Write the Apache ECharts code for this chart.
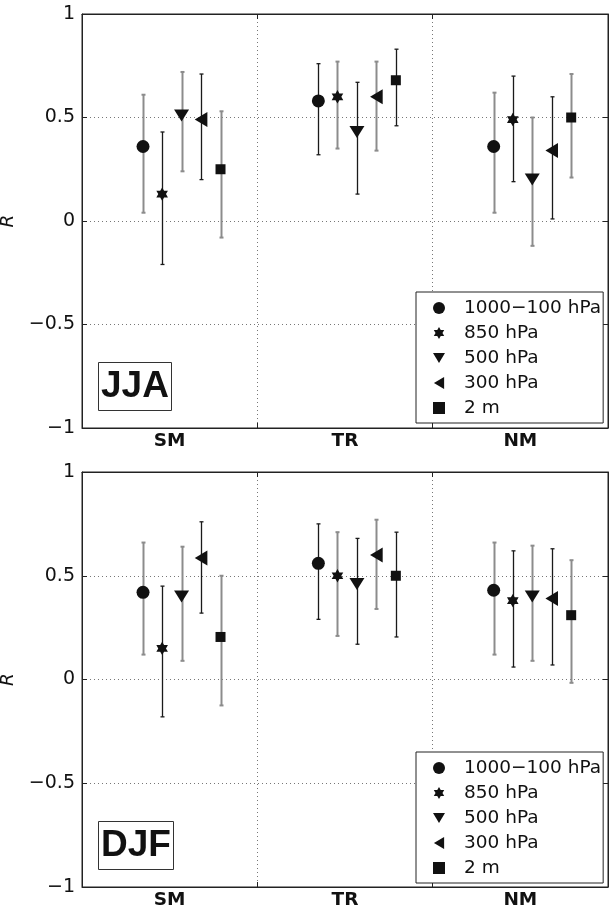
<!DOCTYPE html>
<html>
<head>
<meta charset="utf-8">
<title>R by region, JJA / DJF</title>
<script src="https://cdn.jsdelivr.net/npm/echarts@6.0.0/dist/echarts.min.js"></script>
<style>
  html, body { margin: 0; padding: 0; background: #fff; }
  #chart { width: 612px; height: 911px; }
</style>
</head>
<body>
<div id="chart"></div>
<script>
// categories and series names
var regions = ['SM', 'TR', 'NM']
var levels = ['1000\u2212100 hPa', '850 hPa', '500 hPa', '300 hPa', '2 m']
var yTicks = [-1, -0.5, 0, 0.5, 1]

// JJA: one row per level, one value per region (SM, TR, NM)
var jjaR = [[0.36, 0.58, 0.36], [0.13, 0.60, 0.49], [0.51, 0.43, 0.20], [0.49, 0.60, 0.34], [0.25, 0.68, 0.50]]
var jjaLo = [[0.04, 0.32, 0.04], [-0.21, 0.35, 0.19], [0.24, 0.13, -0.12], [0.20, 0.34, 0.01], [-0.08, 0.46, 0.21]]
var jjaHi = [[0.61, 0.76, 0.62], [0.43, 0.77, 0.70], [0.72, 0.67, 0.50], [0.71, 0.77, 0.60], [0.53, 0.83, 0.71]]

// DJF
var djfR = [[0.42, 0.56, 0.43], [0.15, 0.50, 0.38], [0.40, 0.46, 0.40], [0.585, 0.60, 0.39], [0.205, 0.50, 0.31]]
var djfLo = [[0.12, 0.29, 0.12], [-0.18, 0.21, 0.06], [0.09, 0.17, 0.09], [0.32, 0.34, 0.07], [-0.125, 0.205, -0.016]]
var djfHi = [[0.66, 0.75, 0.66], [0.45, 0.71, 0.62], [0.64, 0.68, 0.645], [0.76, 0.77, 0.63], [0.50, 0.71, 0.575]]

// layout / style constants
var FONT = 'DejaVu Sans'
var offsets = [-0.152, -0.043, 0.068, 0.179, 0.29] // fraction of band width
var HEX = 'path://M0,-1L0.2887,-0.5L0.866,-0.5L0.577,0L0.866,0.5L0.2887,0.5L0,1L-0.2887,0.5L-0.866,0.5L-0.577,0L-0.866,-0.5L-0.2887,-0.5Z'
var icons = ['circle', HEX, 'path://M0,0L2,0L1,1.7Z', 'path://M1.7,0L1.7,2L0,1Z', 'rect']

function markerShape(lvl, x, y) {
  var fill = { fill: '#111' }
  if (lvl === 0) return { type: 'circle', shape: { cx: x, cy: y, r: 6.5 }, style: fill }
  if (lvl === 4) return { type: 'rect', shape: { x: x - 5, y: y - 5, width: 10, height: 10 }, style: fill }
  var pts
  if (lvl === 1) {
    var R = 6.7, r = R / Math.sqrt(3)
    pts = []
    for (var k = 0; k < 12; k++) {
      var a = -Math.PI / 2 + k * Math.PI / 6
      var rr = k % 2 === 0 ? R : r
      pts.push([x + rr * Math.cos(a), y + rr * Math.sin(a)])
    }
  } else if (lvl === 2) {
    pts = [[x - 7.5, y - 6], [x + 7.5, y - 6], [x, y + 6]]
  } else {
    pts = [[x + 6.3, y - 7.5], [x + 6.3, y + 7.5], [x - 6.3, y]]
  }
  return { type: 'polygon', shape: { points: pts }, style: fill }
}

function makeRender(lvl) {
  return function (params, api) {
    var ci = api.value(0)
    var p = api.coord([ci, api.value(1)])
    var bandW = api.size([1, 0])[0]
    var x = Math.round(p[0] + bandW * offsets[lvl]) + 0.5
    var yLo = api.coord([ci, api.value(2)])[1]
    var yHi = api.coord([ci, api.value(3)])[1]
    var grey = (ci * 5 + lvl) % 2 === 0
    var stroke = grey ? '#8c8c8c' : '#1a1a1a'
    var lw = grey ? 2 : 1.3
    var ls = { stroke: stroke, lineWidth: lw }
    return {
      type: 'group',
      children: [
        { type: 'line', shape: { x1: x, y1: yLo, x2: x, y2: yHi }, style: ls },
        { type: 'line', shape: { x1: x - 2, y1: yLo, x2: x + 2, y2: yLo }, style: ls },
        { type: 'line', shape: { x1: x - 2, y1: yHi, x2: x + 2, y2: yHi }, style: ls },
        markerShape(lvl, p[0] + bandW * offsets[lvl], p[1])
      ]
    }
  }
}

function buildSeries(g, R, lo, hi) {
  return levels.map(function (name, lvl) {
    return {
      name: name,
      type: 'custom',
      xAxisIndex: g * 2,
      yAxisIndex: g * 2,
      itemStyle: { color: '#111' },
      renderItem: makeRender(lvl),
      encode: { x: 0, y: 1 },
      data: regions.map(function (rg, ci) { return [ci, R[lvl][ci], lo[lvl][ci], hi[lvl][ci]] }),
      z: 3
    }
  })
}

var dotted = { show: true, lineStyle: { type: [1, 3], color: '#777', width: 1 } }
var tickIn = { show: true, inside: true, length: 5, lineStyle: { color: '#222' } }
var axLine = { show: true, onZero: false, lineStyle: { color: '#222', width: 1 } }

function xAxes(g) {
  return [
    {
      type: 'category', gridIndex: g, data: regions, boundaryGap: true,
      axisLine: axLine, axisTick: tickIn, splitLine: dotted,
      axisLabel: { fontFamily: FONT, fontWeight: 'bold', fontSize: 18.5, color: '#111', margin: 4 }
    },
    {
      type: 'category', gridIndex: g, data: regions, boundaryGap: true, position: 'top',
      axisLine: axLine, axisTick: tickIn, axisLabel: { show: false }, splitLine: { show: false }
    }
  ]
}

function yAxes(g) {
  return [
    {
      type: 'value', gridIndex: g, min: yTicks[0], max: yTicks[yTicks.length - 1], interval: 0.5,
      name: 'R', nameLocation: 'middle', nameGap: 53, nameRotate: 90,
      nameTextStyle: { fontFamily: FONT, fontStyle: 'italic', fontSize: 18.5, color: '#111' },
      axisLine: axLine, axisTick: tickIn, splitLine: dotted,
      axisLabel: {
        fontFamily: FONT, fontSize: 19, color: '#111', margin: 7,
        formatter: function (v) { return String(v).replace('-', '\u2212') }
      }
    },
    {
      type: 'value', gridIndex: g, min: yTicks[0], max: yTicks[yTicks.length - 1], interval: 0.5,
      position: 'right', axisLine: axLine, axisTick: tickIn,
      axisLabel: { show: false }, splitLine: { show: false }
    }
  ]
}

function legendAt(top) {
  return {
    orient: 'vertical', left: 416, top: top,
    padding: [6, 2, 5, 17], itemGap: 5, itemWidth: 12, itemHeight: 12,
    backgroundColor: '#fff', borderColor: '#222', borderWidth: 1, borderRadius: 0,
    selectedMode: false,
    textStyle: { fontFamily: FONT, fontSize: 18.5, color: '#111', lineHeight: 20, padding: [0, 0, 0, 14] },
    data: levels.map(function (n, i) { return { name: n, icon: icons[i] } })
  }
}

function seasonBox(text, top) {
  return {
    text: text, left: 98, top: top,
    borderColor: '#333', borderWidth: 1, padding: [5, 3, 4, 3],
    textStyle: { fontFamily: 'Liberation Sans', fontWeight: 'bold', fontSize: 37, color: '#111', lineHeight: 40 }
  }
}

var chart = echarts.init(document.getElementById('chart'))
chart.setOption({
  animation: false,
  backgroundColor: '#fff',
  title: [seasonBox('JJA', 362), seasonBox('DJF', 821)],
  legend: [legendAt(292), legendAt(752)],
  grid: [
    { left: 82, top: 14, width: 526, height: 414, show: true, borderColor: '#222', borderWidth: 1, outerBoundsMode: 'none' },
    { left: 82, top: 472, width: 526, height: 415, show: true, borderColor: '#222', borderWidth: 1, outerBoundsMode: 'none' }
  ],
  xAxis: xAxes(0).concat(xAxes(1)),
  yAxis: yAxes(0).concat(yAxes(1)),
  series: buildSeries(0, jjaR, jjaLo, jjaHi).concat(buildSeries(1, djfR, djfLo, djfHi))
})
</script>
</body>
</html>
